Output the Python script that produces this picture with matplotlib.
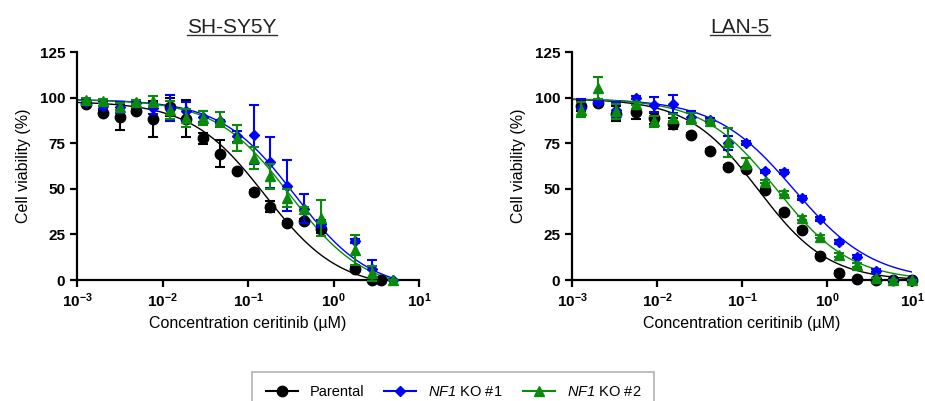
import numpy as np
import matplotlib
matplotlib.use("Agg")
import matplotlib.pyplot as plt
from matplotlib.ticker import FixedLocator, FuncFormatter, NullLocator

plt.rcParams["font.family"] = ["Liberation Sans", "DejaVu Sans"]
plt.rcParams["mathtext.fontset"] = "custom"
# roman math slot is only used for the italic gene name in the legend
plt.rcParams["mathtext.rm"] = "Liberation Sans:italic"
plt.rcParams["mathtext.it"] = "Liberation Sans:italic"
plt.rcParams["mathtext.bf"] = "Liberation Sans:bold"

# ---- SH-SY5Y: concentrations (uM), viability (%) and SD ----
sh_conc_parental = [0.00126, 0.0020, 0.00316, 0.0049, 0.0078, 0.0123, 0.019, 0.030, 0.047,
                    0.074, 0.117, 0.182, 0.288, 0.447, 0.708, 1.78, 2.82, 3.55]
sh_conc_ko = [0.00126, 0.0020, 0.00316, 0.0049, 0.0078, 0.0123, 0.019, 0.030, 0.047,
              0.074, 0.117, 0.182, 0.288, 0.447, 0.708, 1.78, 2.82, 5.0]

sh_parental = [96.7, 91.6, 89.4, 92.5, 88.3, 94.7, 88.5, 77.8, 69.2, 59.5, 48.2, 40.3,
               31.5, 32.4, 27.8, 5.9, 0.0, 0.0]
sh_parental_sd = [1, 1, 7, 1, 10, 5, 10, 3, 7.5, 1, 1, 3, 1, 1, 2, 1, 0, 0]

sh_ko1 = [97.5, 95.6, 94.7, 97.0, 94.1, 94.3, 92.5, 89.4, 87.0, 78.8, 79.7, 64.5,
          51.8, 39.2, 30.8, 21.4, 5.9, 0.0]
sh_ko1_sd = [1, 2, 3, 1, 3, 7, 5, 3, 1, 3, 16, 14, 14, 8, 2, 1, 5, 0]

sh_ko2 = [98.9, 98.0, 95.0, 97.5, 98.0, 93.4, 88.8, 88.8, 87.9, 77.8, 66.8, 56.8,
          44.9, 39.0, 33.9, 16.5, 3.7, 0.0]
sh_ko2_sd = [1, 1, 2, 1, 3, 5, 5, 4, 4, 7, 6, 7, 5, 1, 10, 8, 4, 0]

# ---- LAN-5 ----
lan_conc = [0.00126, 0.00204, 0.00331, 0.00562, 0.00933, 0.0155, 0.0251, 0.0417, 0.0676,
            0.112, 0.186, 0.309, 0.501, 0.832, 1.38, 2.24, 3.72, 6.03, 10.0]

lan_parental = [95.6, 97.0, 91.2, 92.1, 88.8, 85.7, 79.7, 70.9, 61.9, 60.8, 49.5, 37.5,
                27.5, 13.2, 4.0, 0.7, 0.0, 0.0, 0.0]
lan_parental_sd = [3, 1, 4, 4, 3, 3, 1, 1, 1, 1, 1, 1, 1, 1, 1, 0, 0, 0, 0]

lan_ko1 = [94.3, 97.4, 93.4, 100.0, 96.2, 96.7, 89.4, 87.9, 75.1, 75.1, 59.5, 59.2,
           44.9, 33.3, 20.7, 12.8, 5.1, 0.0, 0.0]
lan_ko1_sd = [5, 1, 4, 1, 4, 5, 3, 1, 4, 1, 1, 1, 1, 1, 1, 1, 1, 0, 0]

lan_ko2 = [93.4, 105.3, 92.5, 96.7, 87.0, 89.0, 88.8, 87.0, 75.5, 64.1, 54.0, 47.6,
           33.9, 23.8, 13.7, 8.2, 1.0, 0.0, 0.0]
lan_ko2_sd = [4, 6, 4, 1, 3, 2, 3, 1, 8, 3, 1, 1, 1, 1, 1, 1, 0, 0, 0]

# four-parameter logistic fits: top, bottom, IC50 (uM), hill slope
sh_fits = [(98, -5, 0.158, 1.0), (99, -6, 0.353, 1.0), (99, -6, 0.31, 1.0)]
lan_fits = [(99.5, -0.5, 0.155, 1.05), (99.5, -0.5, 0.41, 0.93), (99.5, -0.5, 0.257, 1.0)]

labels = ["Parental", r"$NF1$ KO #1", r"$NF1$ KO #2"]
colors = ["black", "#0000ff", "#0a8a0a"]
markers = ["o", "D", "^"]
msizes = [7.5, 5, 6.5]


def logistic(x, top, bottom, ic50, hill):
    return bottom + (top - bottom) / (1 + 10 ** ((np.log10(x) - np.log10(ic50)) * hill))


def draw_panel(ax, title, title_x, concs, means, sds, fits):
    for i in range(3):
        x = np.array(concs[i])
        xs = np.logspace(-3, np.log10(x[-1]), 200)
        ax.plot(xs, logistic(xs, *fits[i]), color=colors[i], lw=1.0, zorder=2)
        ax.errorbar(x, means[i], yerr=sds[i], fmt=markers[i], color=colors[i],
                    ms=msizes[i], elinewidth=1.5, capsize=3.5, capthick=1.5,
                    clip_on=False, zorder=3 + i)
    ax.set_xscale("log")
    ax.set_xlim(1e-3, 1e1)
    ax.set_ylim(0, 125)
    ax.xaxis.set_major_locator(FixedLocator([1e-3, 1e-2, 1e-1, 1e0, 1e1]))
    ax.xaxis.set_minor_locator(NullLocator())
    ax.xaxis.set_major_formatter(FuncFormatter(
        lambda v, p: r"$\mathbf{10^{%d}}$" % round(np.log10(v))))
    ax.set_yticks([0, 25, 50, 75, 100, 125])
    for sp in ["top", "right"]:
        ax.spines[sp].set_visible(False)
    for sp in ["left", "bottom"]:
        ax.spines[sp].set_linewidth(1.6)
    ax.tick_params(width=1.6, length=5, labelsize=11)
    for t in ax.get_yticklabels():
        t.set_fontweight("bold")
    ax.set_xlabel("Concentration ceritinib (µM)", fontsize=11.5, labelpad=4)
    ax.set_ylabel("Cell viability (%)", fontsize=11.5, labelpad=6)
    return fig.text(title_x, 1 - 33 / 401, title, fontsize=15, ha="center", va="baseline",
                    color="#222222")


fig = plt.figure(figsize=(9.25, 4.01), dpi=100)
ax1 = fig.add_axes([0.0832, 0.3017, 0.370, 0.5686])
ax2 = fig.add_axes([0.6184, 0.3017, 0.3676, 0.5686])

t1 = draw_panel(ax1, "SH-SY5Y", 232 / 925, [sh_conc_parental, sh_conc_ko, sh_conc_ko],
                [sh_parental, sh_ko1, sh_ko2], [sh_parental_sd, sh_ko1_sd, sh_ko2_sd], sh_fits)
t2 = draw_panel(ax2, "LAN-5", 740 / 925, [lan_conc] * 3,
                [lan_parental, lan_ko1, lan_ko2], [lan_parental_sd, lan_ko1_sd, lan_ko2_sd],
                lan_fits)

# underline the panel titles
fig.canvas.draw()
inv = fig.transFigure.inverted()
for t in (t1, t2):
    bb = t.get_window_extent()
    (x0, y0), (x1, _) = inv.transform([[bb.x0, bb.y0], [bb.x1, bb.y1]])
    fig.add_artist(plt.Line2D([x0, x1], [y0 + 0.006, y0 + 0.006], color="#333333",
                              lw=1.0, transform=fig.transFigure))

handles = [plt.Line2D([], [], color=c, marker=m, ms=s, lw=1.5)
           for c, m, s in zip(colors, markers, msizes)]
leg = fig.legend(handles, labels, loc="lower center", bbox_to_anchor=(0.49, -0.045),
                 ncol=3, fontsize=10.5, frameon=True, fancybox=False,
                 edgecolor="#a0a0a0", handlelength=2.2, columnspacing=1.4,
                 borderpad=0.9)
leg.get_frame().set_linewidth(1.2)

fig.savefig("out.png", dpi=100)
